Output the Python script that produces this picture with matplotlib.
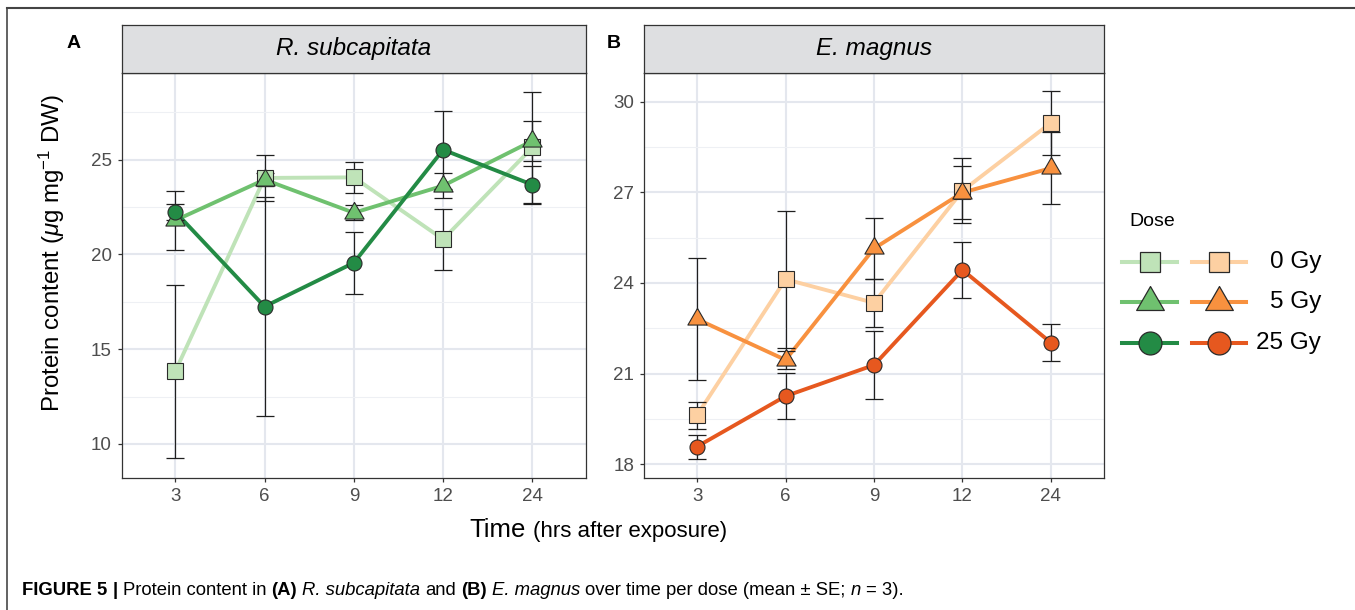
import matplotlib
matplotlib.use("Agg")
import matplotlib.pyplot as plt
from matplotlib.lines import Line2D
import numpy as np

plt.rcParams['font.family'] = ['Liberation Sans', 'DejaVu Sans']
plt.rcParams['mathtext.fontset'] = 'custom'
plt.rcParams['mathtext.rm'] = 'Liberation Sans'
plt.rcParams['mathtext.it'] = 'Liberation Sans:italic'

times = ['3', '6', '9', '12', '24']
doses = ['0 Gy', '5 Gy', '25 Gy']

# R. subcapitata, mean and SE per dose
rs_0gy = [13.83, 24.04, 24.07, 20.80, 25.65]
rs_0gy_se = [4.58, 1.20, 0.80, 1.62, 2.95]
rs_5gy = [21.80, 23.95, 22.20, 23.63, 26.00]
rs_5gy_se = [1.55, 0.35, 0.40, 0.65, 1.05]
rs_25gy = [22.25, 17.25, 19.56, 25.53, 23.68]
rs_25gy_se = [0.43, 5.76, 1.65, 2.07, 1.00]

# E. magnus, mean and SE per dose
em_0gy = [19.62, 24.12, 23.34, 27.05, 29.30]
em_0gy_se = [0.45, 2.26, 0.80, 1.07, 1.05]
em_5gy = [22.80, 21.45, 25.14, 26.99, 27.80]
em_5gy_se = [2.03, 0.30, 1.00, 0.87, 1.20]
em_25gy = [18.58, 20.25, 21.28, 24.43, 22.02]
em_25gy_se = [0.40, 0.77, 1.14, 0.92, 0.62]

greens = ['#bfe3b8', '#6fc16f', '#238b45']
oranges = ['#fdd0a2', '#f8913f', '#e6581f']

# triangle centred on its centroid, like R's pch 24
TRI = [(0, 1), (-0.866, -0.5), (0.866, -0.5), (0, 1)]
shapes = ['s', TRI, 'o']
shape_ms = [11.3, 16.0, 10.8]
legend_ms = [14.4, 23.0, 16.5]

W, H = 1355, 610
fig = plt.figure(figsize=(W / 100, H / 100), dpi=100)


def px_box(x0, y0, x1, y1):
    return [x0 / W, 1 - y1 / H, (x1 - x0) / W, (y1 - y0) / H]


def draw_panel(box, means, ses, colors, ylim, yticks, yminor, title):
    ax = fig.add_axes(px_box(*box))
    x = np.arange(1, len(times) + 1)
    for m, c in zip(means, colors):
        ax.plot(x, m, color=c, lw=2.8, zorder=2)
    for m, s in zip(means, ses):
        ax.errorbar(x, m, yerr=s, fmt='none', ecolor='#1f1f1f', elinewidth=0.9,
                    capsize=6.3, capthick=0.9, zorder=3)
    for m, c, mk, ms in zip(means, colors, shapes, shape_ms):
        ax.plot(x, m, ls='none', marker=mk, ms=ms, mfc=c, mec='#2a2a2a',
                mew=0.8, zorder=4)
    ax.set_xlim(0.4, len(times) + 0.6)
    ax.set_ylim(*ylim)
    ax.set_xticks(x)
    ax.set_xticklabels(times)
    ax.set_yticks(yticks)
    ax.set_yticks(yminor, minor=True)
    ax.grid(which='major', color='#e4e7ee', lw=1.5)
    ax.grid(which='minor', axis='y', color='#eef0f4', lw=0.8)
    ax.set_axisbelow(True)
    ax.tick_params(which='major', length=3, width=0.9, color='#333333',
                   labelsize=13.5, labelcolor='#4d4d4d', pad=4)
    ax.tick_params(which='minor', length=0)
    for sp in ax.spines.values():
        sp.set_color('#333333')
        sp.set_linewidth(0.9)

    # facet strip
    st = fig.add_axes(px_box(box[0], 25, box[2], box[1]))
    st.set_facecolor('#dedfe1')
    st.set_xticks([])
    st.set_yticks([])
    for sp in st.spines.values():
        sp.set_color('#333333')
        sp.set_linewidth(0.9)
    st.text(0.5, 0.5, title, style='italic', fontsize=17.5, ha='center',
            va='center', transform=st.transAxes)
    return ax


draw_panel((121.7, 73, 586, 478), [rs_0gy, rs_5gy, rs_25gy],
           [rs_0gy_se, rs_5gy_se, rs_25gy_se], greens,
           (8.2, 29.58), [10, 15, 20, 25], [12.5, 17.5, 22.5, 27.5],
           'R. subcapitata')
draw_panel((644, 73, 1104, 478), [em_0gy, em_5gy, em_25gy],
           [em_0gy_se, em_5gy_se, em_25gy_se], oranges,
           (17.54, 30.95), [18, 21, 24, 27, 30], [19.5, 22.5, 25.5, 28.5],
           'E. magnus')

# overlay in pixel units for labels, legend, caption and frame
ov = fig.add_axes([0, 0, 1, 1])
ov.set_xlim(0, W)
ov.set_ylim(H, 0)
ov.axis('off')
ov.patch.set_alpha(0)

ov.plot([7, 7], [8, H], color='#555555', lw=1.3)
ov.plot([7, W], [8, 8], color='#444444', lw=1.5)

ov.text(74, 43, 'A', fontsize=14, fontweight='bold', ha='center', va='center')
ov.text(614, 43, 'B', fontsize=14, fontweight='bold', ha='center', va='center')

ov.text(52, 253, r'Protein content ($\mu$g mg$^{-1}$ DW)', fontsize=17.3,
        rotation=90, ha='center', va='center')

renderer = fig.canvas.get_renderer()


def run_text(x, y, parts, center=False):
    placed = []
    cur = x
    gap = 0
    for s, kw in parts:
        t = ov.text(cur, y, s, va='baseline', **kw)
        w = t.get_window_extent(renderer).width
        a = ov.text(0, 0, 'x x', **kw)
        b = ov.text(0, 0, 'xx', **kw)
        gap = a.get_window_extent(renderer).width - b.get_window_extent(renderer).width
        a.remove()
        b.remove()
        placed.append(t)
        cur += w + gap
    if center:
        shift = (cur - gap - x) / 2
        for t in placed:
            t.set_x(t.get_position()[0] - shift)


run_text(598, 537, [('Time', dict(fontsize=18.5)),
                    ('(hrs after exposure)', dict(fontsize=16))], center=True)

# legend
ov.text(1129, 222, 'Dose', fontsize=14, va='center', ha='left')
rows = [262, 302, 343]
for i, y in enumerate(rows):
    for x0, x1, cols in [(1122, 1177, greens), (1192, 1246, oranges)]:
        ov.add_line(Line2D([x0, x1], [y, y], color=cols[i], lw=2.9))
        ov.plot((x0 + x1) / 2, y, marker=shapes[i], ms=legend_ms[i],
                mfc=cols[i], mec='#2a2a2a', mew=0.9, ls='none')
    ov.text(1321, y, doses[i], fontsize=17.5, ha='right', va='center')

reg = dict(fontsize=13.3)
bold = dict(fontsize=13.3, fontweight='bold')
ital = dict(fontsize=13.3, style='italic')
run_text(22, 595, [('FIGURE 5', bold), ('|', bold),
                   ('Protein content in', reg), ('(A)', bold),
                   ('R. subcapitata', ital), ('and', reg), ('(B)', bold),
                   ('E. magnus', ital),
                   ('over time per dose (mean \u00b1 SE;', reg),
                   ('n', ital), ('= 3).', reg)])

fig.savefig('out.png', dpi=100)
